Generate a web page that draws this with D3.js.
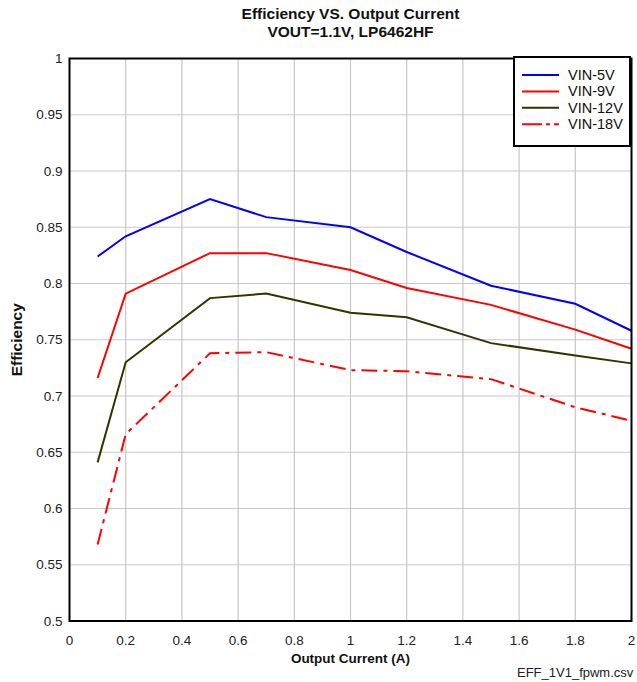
<!DOCTYPE html>
<html>
<head>
<meta charset="utf-8">
<script src="https://cdn.jsdelivr.net/npm/d3@7"></script>
<style>
  body { margin: 0; background: #fff; }
  svg { display: block; font-family: "Liberation Sans", Arial, sans-serif; }
</style>
</head>
<body>
<div id="chart"></div>
<script>
// efficiency data
var current = [0.1, 0.2, 0.5, 0.7, 1.0, 1.2, 1.5, 1.8, 2.0];
var vin5  = [0.824, 0.842, 0.875, 0.859, 0.850, 0.828, 0.798, 0.782, 0.758];
var vin9  = [0.716, 0.791, 0.827, 0.827, 0.812, 0.796, 0.781, 0.759, 0.742];
var vin12 = [0.641, 0.730, 0.787, 0.791, 0.774, 0.770, 0.747, 0.736, 0.729];
var vin18 = [0.568, 0.666, 0.738, 0.739, 0.723, 0.722, 0.715, 0.690, 0.678];
var seriesNames = ["VIN-5V", "VIN-9V", "VIN-12V", "VIN-18V"];
var xTicks = [0, 0.2, 0.4, 0.6, 0.8, 1, 1.2, 1.4, 1.6, 1.8, 2];
var yTicks = [0.5, 0.55, 0.6, 0.65, 0.7, 0.75, 0.8, 0.85, 0.9, 0.95, 1];

var series = [
  {name: seriesNames[0], values: vin5,  color: "#0000ff", dash: null},
  {name: seriesNames[1], values: vin9,  color: "#ff0000", dash: null},
  {name: seriesNames[2], values: vin12, color: "#333300", dash: null},
  {name: seriesNames[3], values: vin18, color: "#ff0000", dash: "16,6,4,6"}
];

var chartWidth = 637, chartHeight = 682,
    margin = {top: 58.5, right: 5.5, bottom: 61, left: 69.5},
    width = chartWidth - margin.left - margin.right,
    height = chartHeight - margin.top - margin.bottom;

var svg = d3.select("#chart").append("svg")
    .attr("width", chartWidth)
    .attr("height", chartHeight);

var x = d3.scaleLinear().domain([0, 2]).range([0, width]),
    y = d3.scaleLinear().domain([0.5, 1]).range([height, 0]);

var g = svg.append("g")
    .attr("transform", "translate(" + margin.left + "," + margin.top + ")");

// grid
g.append("g").selectAll("line")
  .data(xTicks)
  .enter().append("line")
    .attr("x1", function(d) { return x(d); })
    .attr("x2", function(d) { return x(d); })
    .attr("y1", 0).attr("y2", height)
    .attr("stroke", "#c8c8c8").attr("stroke-width", 1.2);

g.append("g").selectAll("line")
  .data(yTicks)
  .enter().append("line")
    .attr("y1", function(d) { return y(d); })
    .attr("y2", function(d) { return y(d); })
    .attr("x1", 0).attr("x2", width)
    .attr("stroke", "#c8c8c8").attr("stroke-width", 1.2);

// tick labels
g.append("g").selectAll("text")
  .data(yTicks)
  .enter().append("text")
    .attr("x", -7)
    .attr("y", function(d) { return y(d); })
    .attr("dy", "0.35em")
    .attr("text-anchor", "end")
    .attr("font-size", "13.5px")
    .attr("fill", "#222")
    .text(function(d) { return +d.toFixed(2); });

g.append("g").selectAll("text")
  .data(xTicks)
  .enter().append("text")
    .attr("x", function(d) { return x(d); })
    .attr("y", height + 19)
    .attr("dy", "0.35em")
    .attr("text-anchor", "middle")
    .attr("font-size", "13.5px")
    .attr("fill", "#222")
    .text(function(d) { return +d.toFixed(1); });

// lines
var line = d3.line()
    .x(function(d, i) { return x(current[i]); })
    .y(function(d) { return y(d); });

g.selectAll(".series")
  .data(series)
  .enter().append("path")
    .attr("class", "series")
    .attr("d", function(d) { return line(d.values); })
    .attr("fill", "none")
    .attr("stroke", function(d) { return d.color; })
    .attr("stroke-width", 2)
    .attr("stroke-dasharray", function(d) { return d.dash; });

// frame
g.append("rect")
    .attr("width", width).attr("height", height)
    .attr("fill", "none")
    .attr("stroke", "#000").attr("stroke-width", 2);

// titles
svg.append("text")
    .attr("x", margin.left + width / 2).attr("y", 19)
    .attr("text-anchor", "middle").attr("font-weight", "bold")
    .attr("font-size", "15.5px").attr("fill", "#111")
    .text("Efficiency VS. Output Current");
svg.append("text")
    .attr("x", margin.left + width / 2).attr("y", 37)
    .attr("text-anchor", "middle").attr("font-weight", "bold")
    .attr("font-size", "15.5px").attr("fill", "#111")
    .text("VOUT=1.1V, LP6462HF");

svg.append("text")
    .attr("x", margin.left + width / 2).attr("y", 663)
    .attr("text-anchor", "middle").attr("font-weight", "bold")
    .attr("font-size", "13.5px").attr("fill", "#111")
    .text("Output Current (A)");

svg.append("text")
    .attr("transform", "translate(22," + (margin.top + height / 2) + ") rotate(-90)")
    .attr("text-anchor", "middle").attr("font-weight", "bold")
    .attr("font-size", "15.5px").attr("fill", "#111")
    .text("Efficiency");

svg.append("text")
    .attr("x", 517).attr("y", 677)
    .attr("font-size", "13px").attr("fill", "#222")
    .text("EFF_1V1_fpwm.csv");

// legend
var legend = svg.append("g").attr("transform", "translate(514,57)");
legend.append("rect")
    .attr("width", 116).attr("height", 89)
    .attr("fill", "#fff")
    .attr("stroke", "#000").attr("stroke-width", 2);

var item = legend.selectAll(".item")
  .data(series)
  .enter().append("g")
    .attr("class", "item")
    .attr("transform", function(d, i) { return "translate(0," + (18 + i * 16.4) + ")"; });

item.append("line")
    .attr("x1", 8).attr("x2", 45)
    .attr("stroke", function(d) { return d.color; })
    .attr("stroke-width", 2)
    .attr("stroke-dasharray", function(d) { return d.dash ? "20,4,4,4,5" : null; });

item.append("text")
    .attr("x", 54).attr("dy", "0.35em")
    .attr("font-size", "14.5px").attr("fill", "#111")
    .text(function(d) { return d.name; });
</script>
</body>
</html>
